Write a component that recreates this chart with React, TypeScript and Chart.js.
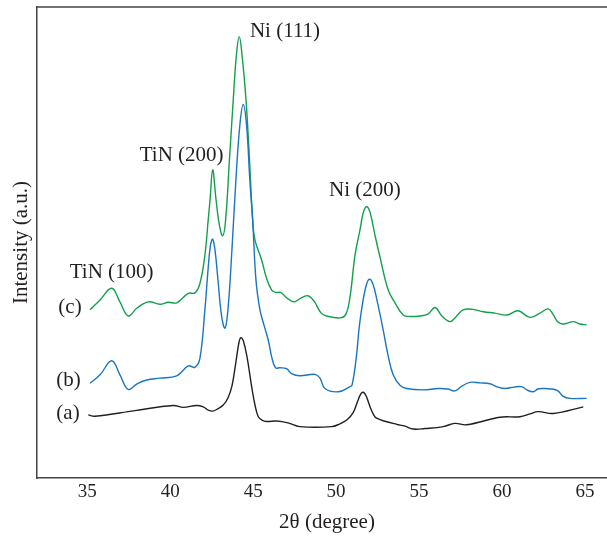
import React, { useEffect, useRef } from "react";
import { Chart, registerables } from "chart.js";

Chart.register(...registerables);

// 2θ positions (degree) and intensities (a.u., offset for stacking) of each pattern
const angleA = [35.06, 35.46, 37.87, 40.18, 40.79, 41.59, 41.99, 42.29, 42.56, 42.82, 43.2, 43.48, 43.72, 43.96, 44.14, 44.26, 44.41, 44.63, 44.91, 45.11, 45.31, 45.53, 45.81, 46.42, 47.1, 47.82, 49.73, 50.23, 50.64, 51.03, 51.3, 51.5, 51.64, 51.8, 52.04, 52.25, 52.44, 53.0, 53.65, 54.15, 54.65, 55.36, 56.46, 57.16, 57.87, 59.88, 61.08, 61.68, 62.18, 63.09, 64.9];
const intensityA = [13.4, 13.1, 14.3, 15.4, 15.0, 15.4, 15.1, 14.4, 14.2, 14.6, 15.5, 17.0, 19.5, 24.6, 28.7, 29.8, 29.1, 25.7, 19.4, 15.5, 13.0, 12.3, 12.0, 12.1, 11.7, 10.9, 10.9, 11.5, 12.3, 13.9, 16.3, 17.9, 18.2, 17.5, 15.2, 13.5, 12.7, 12.0, 11.4, 11.0, 10.4, 10.5, 10.9, 11.6, 11.3, 12.9, 13.0, 13.6, 14.1, 13.7, 15.1];

const angleB = [35.16, 35.77, 36.47, 36.97, 37.47, 38.0, 38.58, 39.38, 40.39, 41.09, 41.49, 41.79, 42.09, 42.28, 42.43, 42.56, 42.7, 42.88, 43.09, 43.3, 43.48, 43.72, 43.96, 44.2, 44.4, 44.6, 44.8, 44.97, 45.17, 45.41, 45.65, 45.91, 46.13, 46.35, 46.62, 47.01, 47.34, 47.82, 48.73, 49.03, 49.33, 50.13, 50.84, 50.96, 51.2, 51.41, 51.63, 51.84, 52.02, 52.22, 52.46, 52.84, 53.13, 53.44, 53.85, 54.25, 55.25, 56.16, 56.74, 57.16, 57.58, 58.07, 58.67, 59.27, 59.76, 60.18, 60.72, 61.18, 61.5, 61.88, 62.16, 62.49, 63.01, 63.37, 63.67, 64.1, 65.1];
const intensityB = [20.1, 21.9, 24.9, 21.9, 18.8, 20.0, 20.8, 21.2, 21.7, 23.8, 23.5, 25.4, 35.7, 44.2, 49.5, 50.7, 48.4, 42.0, 34.6, 31.8, 35.7, 48.4, 63.3, 75.0, 79.3, 75.0, 63.3, 54.8, 42.0, 35.7, 32.5, 29.3, 25.5, 23.4, 23.4, 23.2, 22.1, 21.7, 22.0, 21.2, 19.0, 18.3, 19.4, 19.7, 25.1, 32.5, 37.8, 41.2, 42.2, 41.2, 37.8, 31.4, 26.1, 21.9, 19.7, 19.0, 18.7, 19.0, 18.9, 18.5, 19.5, 20.3, 20.2, 20.0, 19.3, 19.0, 19.3, 19.4, 18.7, 18.3, 18.9, 19.0, 18.9, 18.5, 17.4, 16.9, 16.9];

const angleC = [35.16, 35.77, 36.47, 36.97, 37.47, 38.0, 38.68, 39.38, 39.88, 40.39, 41.09, 41.49, 41.79, 42.09, 42.29, 42.4, 42.56, 42.75, 42.95, 43.16, 43.33, 43.57, 43.8, 43.99, 44.16, 44.33, 44.57, 44.78, 44.97, 45.11, 45.51, 45.8, 46.12, 46.37, 46.66, 47.04, 47.47, 47.82, 48.29, 48.66, 49.1, 49.43, 50.23, 50.59, 50.84, 51.14, 51.44, 51.65, 51.84, 52.04, 52.34, 52.64, 53.14, 53.55, 54.05, 54.45, 55.05, 55.54, 55.96, 56.38, 56.86, 57.22, 57.66, 58.25, 58.87, 59.58, 60.28, 60.98, 61.68, 62.29, 62.79, 63.07, 63.37, 63.69, 64.3, 64.7, 65.1];
const intensityC = [35.7, 37.8, 40.3, 37.4, 34.4, 36.1, 37.4, 36.9, 37.3, 37.2, 39.2, 39.3, 41.3, 47.3, 54.8, 59.0, 65.4, 59.5, 54.0, 51.4, 54.4, 67.5, 80.3, 89.8, 93.7, 89.8, 80.3, 67.5, 54.8, 50.5, 46.3, 42.5, 39.9, 39.4, 39.4, 38.2, 37.4, 38.1, 38.7, 37.6, 35.0, 34.4, 34.0, 34.8, 38.5, 47.3, 52.7, 56.5, 57.6, 56.5, 51.6, 47.0, 39.9, 37.2, 34.6, 34.3, 34.4, 34.8, 36.2, 34.4, 33.2, 34.2, 35.7, 35.8, 35.3, 35.0, 34.6, 35.5, 34.1, 35.0, 35.9, 34.8, 33.1, 32.7, 33.2, 32.7, 32.5];

const xTicks = [35, 40, 45, 50, 55, 60, 65];

// reflection labels: text, 2θ, intensity
const peakNames = ["TiN (100)", "TiN (200)", "Ni (111)", "Ni (200)"];
const peakAngles = [36.47, 40.69, 46.92, 51.74];
const peakLevels = [43.7, 68.4, 94.7, 61.1];

// pattern labels placed left of each trace
const traceNames = ["(a)", "(b)", "(c)"];
const traceAngles = [33.84, 33.87, 33.96];
const traceLevels = [13.8, 20.6, 36.1];

const FONT = "'Liberation Serif', 'Times New Roman', serif";
const TEXT = "#231f20";
const FRAME = "#444444";

const toPoints = (xs: number[], ys: number[]) => xs.map((x, i) => ({ x, y: ys[i] }));

const overlay = {
  id: "xrdOverlay",
  afterDraw(chart: any) {
    const { ctx, chartArea, scales } = chart;
    const xs = scales.x;
    const ys = scales.y;
    ctx.save();
    // top frame line
    ctx.strokeStyle = FRAME;
    ctx.lineWidth = 1.5;
    ctx.beginPath();
    ctx.moveTo(chartArea.left - 0.75, chartArea.top);
    ctx.lineTo(chartArea.right, chartArea.top);
    ctx.stroke();

    ctx.fillStyle = TEXT;
    ctx.textAlign = "center";
    ctx.textBaseline = "middle";
    ctx.font = `21px ${FONT}`;
    peakNames.forEach((t, i) => {
      ctx.fillText(t, xs.getPixelForValue(peakAngles[i]), ys.getPixelForValue(peakLevels[i]));
    });
    traceNames.forEach((t, i) => {
      ctx.fillText(t, xs.getPixelForValue(traceAngles[i]), ys.getPixelForValue(traceLevels[i]));
    });

    // axis titles
    ctx.fillText("2θ (degree)", (chartArea.left + chartArea.right) / 2 + 5, chartArea.bottom + 44);
    ctx.translate(21, (chartArea.top + chartArea.bottom) / 2);
    ctx.rotate(-Math.PI / 2);
    ctx.fillText("Intensity (a.u.)", 0, 0);
    ctx.restore();
  },
};

export default function App() {
  const ref = useRef<HTMLCanvasElement | null>(null);

  useEffect(() => {
    if (!ref.current) return;
    const line = (data: { x: number; y: number }[], color: string) => ({
      data,
      borderColor: color,
      borderWidth: 1.4,
      pointRadius: 0,
      fill: false,
      tension: 0.4,
    });
    const chart = new Chart(ref.current, {
      type: "line",
      data: {
        datasets: [
          line(toPoints(angleA, intensityA), "#231f20"),
          line(toPoints(angleB, intensityB), "#1a75c2"),
          line(toPoints(angleC, intensityC), "#12a04b"),
        ],
      },
      options: {
        animation: false,
        responsive: false,
        events: [],
        layout: { padding: { top: 7, left: 0, right: 0, bottom: 0 } },
        plugins: { legend: { display: false }, tooltip: { enabled: false } },
        scales: {
          x: {
            type: "linear",
            min: 31.97,
            max: 66.33,
            afterBuildTicks: (s: any) => {
              s.ticks = xTicks.map((v) => ({ value: v }));
            },
            afterFit: (s: any) => {
              s.height = 59;
            },
            grid: { display: false, drawTicks: false },
            border: { display: true, color: FRAME, width: 1.5 },
            ticks: {
              padding: 3,
              color: TEXT,
              font: { family: FONT, size: 19 },
              maxRotation: 0,
              autoSkip: false,
            },
          },
          y: {
            min: 0,
            max: 100,
            afterFit: (s: any) => {
              s.width = 37;
            },
            grid: { display: false, drawTicks: false },
            border: { display: true, color: FRAME, width: 1.5 },
            ticks: { display: false },
          },
        },
      },
      plugins: [overlay],
    });
    return () => chart.destroy();
  }, []);

  return (
    <div style={{ position: "fixed", left: 0, top: 0, width: 607, height: 537, background: "#fff" }}>
      <canvas ref={ref} width={607} height={537} />
    </div>
  );
}
